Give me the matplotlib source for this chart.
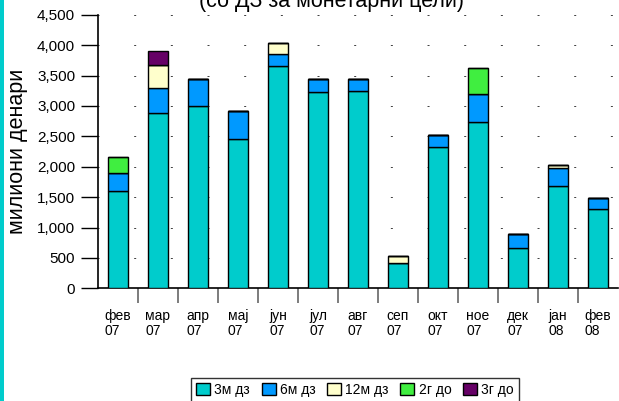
import matplotlib
matplotlib.use('Agg')
import matplotlib.pyplot as plt
from matplotlib.patches import Rectangle
from matplotlib.ticker import FuncFormatter, FixedLocator
import numpy as np

plt.rcParams['font.family'] = ['Liberation Sans', 'DejaVu Sans']

# месеци
months = ['фев\n07', 'мар\n07', 'апр\n07', 'мај\n07', 'јун\n07', 'јул\n07', 'авг\n07',
          'сеп\n07', 'окт\n07', 'ное\n07', 'дек\n07', 'јан\n08', 'фев\n08']

# милиони денари, по рочност
dz_3m  = [1605, 2890, 2995, 2450, 3655, 3235, 3250, 415, 2320, 2740, 660, 1680, 1300]
dz_6m  = [ 297,  400,  450,  465,  205,  200,  200,   0,  200,  450, 240,  295,  190]
dz_12m = [   0,  385,    0,    0,  170,    0,    0, 115,    0,    0,   0,   55,    0]
do_2g  = [ 263,    0,    0,    0,    0,    0,    0,   0,    0,  440,   0,    0,    0]
do_3g  = [   0,  220,    0,    0,    0,    0,    0,   0,    0,    0,   0,    0,    0]

series = [('3м дз', dz_3m, '#00CCCC'),
          ('6м дз', dz_6m, '#0099FF'),
          ('12м дз', dz_12m, '#FFFFCC'),
          ('2г до', do_2g, '#40EE40'),
          ('3г до', do_3g, '#660066')]

W, H = 619, 401
fig = plt.figure(figsize=(W / 100, H / 100), dpi=100)
ax = fig.add_axes([98 / W, 1 - 288.3 / H, 520 / W, (288.3 - 14.7) / H])

x = np.arange(len(months))
bottom = np.zeros(len(months))
for name, vals, col in series:
    vals = np.array(vals, dtype=float)
    ax.bar(x, vals, 0.5, bottom=bottom, color=col, edgecolor='black',
           linewidth=1.0, label=name, zorder=3)
    bottom += vals

ax.set_xlim(-0.5, len(months) - 0.5)
ax.set_ylim(0, 4500)
ax.set_yticks(np.arange(0, 4501, 500))
ax.yaxis.set_major_formatter(FuncFormatter(lambda v, p: f'{int(v):,}'))
ax.tick_params(axis='y', direction='out', length=12, width=1, pad=4.5,
               labelsize=11, color='black')

# подреден хоризонтален грид, само точки
for v in range(500, 4501, 500):
    ax.axhline(v, color='#444444', linewidth=0.72, zorder=1,
               linestyle=(1, (2, 34.67)))

ax.set_xticks(x)
ax.set_xticklabels(months, fontsize=10, linespacing=1.1, multialignment='left')
ax.tick_params(axis='x', which='major', length=0, pad=15)
ax.xaxis.set_minor_locator(FixedLocator(np.arange(0.5, len(months) - 0.5, 1)))
ax.tick_params(axis='x', which='minor', direction='out', length=11, width=1.2,
               color='#666666')

for s in ['top', 'right']:
    ax.spines[s].set_visible(False)
ax.spines['left'].set_linewidth(1.2)
ax.spines['bottom'].set_linewidth(1.2)

fig.text(331.5 / W, 1 - 7.5 / H, '(со ДЗ за монетарни цели)', fontsize=15.5,
         ha='center', va='baseline')
fig.text(17.5 / W, 1 - 151.5 / H, 'милиони денари', fontsize=15.5,
         rotation=90, ha='center', va='center')

# лента лево
fig.patches.append(Rectangle((0, 0), 4 / W, 1, transform=fig.transFigure,
                             facecolor='#00CCCC', edgecolor='none'))

leg = fig.legend(loc='upper center', bbox_to_anchor=(355 / W, 1 - 378 / H),
                 ncol=5, fontsize=10, frameon=True, fancybox=False,
                 edgecolor='black', handlelength=1.0, handleheight=1.0,
                 handletextpad=0.3, columnspacing=0.85, borderpad=0.35,
                 borderaxespad=0)
leg.get_frame().set_linewidth(1.0)

fig.savefig('out.png', dpi=100)
